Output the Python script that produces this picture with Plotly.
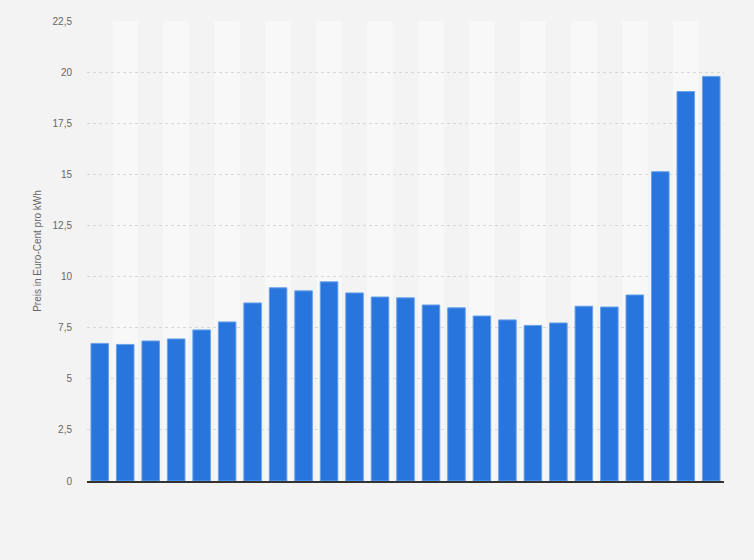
import plotly.graph_objects as go

categories = [str(y) for y in range(1999, 2024)]
prices = [6.73, 6.68, 6.85, 6.95, 7.39, 7.78, 8.71, 9.45, 9.30, 9.74,
          9.20, 9.00, 8.96, 8.61, 8.47, 8.07, 7.88, 7.61, 7.73, 8.55,
          8.51, 9.10, 15.13, 19.05, 19.79]
tick_vals = [0, 2.5, 5, 7.5, 10, 12.5, 15, 17.5, 20, 22.5]
tick_text = ["0", "2,5", "5", "7,5", "10", "12,5", "15", "17,5", "20", "22,5"]
y_title = "Preis in Euro-Cent pro kWh"

fig = go.Figure()
fig.add_trace(go.Bar(
    x=list(range(len(categories))), y=prices,
    marker=dict(color="#2876dd", line=dict(color="#6aa2ea", width=1)),
    hovertext=categories,
))

shapes = []
for i in range(len(categories)):
    if i % 2 == 1:
        shapes.append(dict(type="rect", xref="x", yref="paper",
                           x0=i - 0.5, x1=i + 0.5, y0=0, y1=1,
                           fillcolor="#f8f8f8", line=dict(width=0), layer="below"))

fig.update_layout(
    width=754, height=560,
    margin=dict(l=87, r=30, t=21, b=79),
    paper_bgcolor="#f3f3f3", plot_bgcolor="#f3f3f3",
    bargap=0.31,
    showlegend=False,
    shapes=shapes,
    font=dict(family="Liberation Sans, Arial, sans-serif", size=10, color="#666666"),
    xaxis=dict(range=[-0.5, len(categories) - 0.5], showticklabels=False,
               showgrid=False, zeroline=False, showline=True,
               linecolor="#333333", linewidth=1.5, ticks=""),
    yaxis=dict(range=[0, 22.5], tickvals=tick_vals, ticktext=tick_text,
               showgrid=True, gridcolor="#d8d8d8", griddash="dot", gridwidth=1,
               zeroline=False, showline=False, ticks="",
               ticklabelstandoff=14,
               title=dict(text=y_title, standoff=9,
                          font=dict(size=10, color="#666666"))),
)

fig.write_html("out.html", config={"displayModeBar": False},
               post_script="document.body.style.margin='0';document.body.style.background='#f3f3f3';")
